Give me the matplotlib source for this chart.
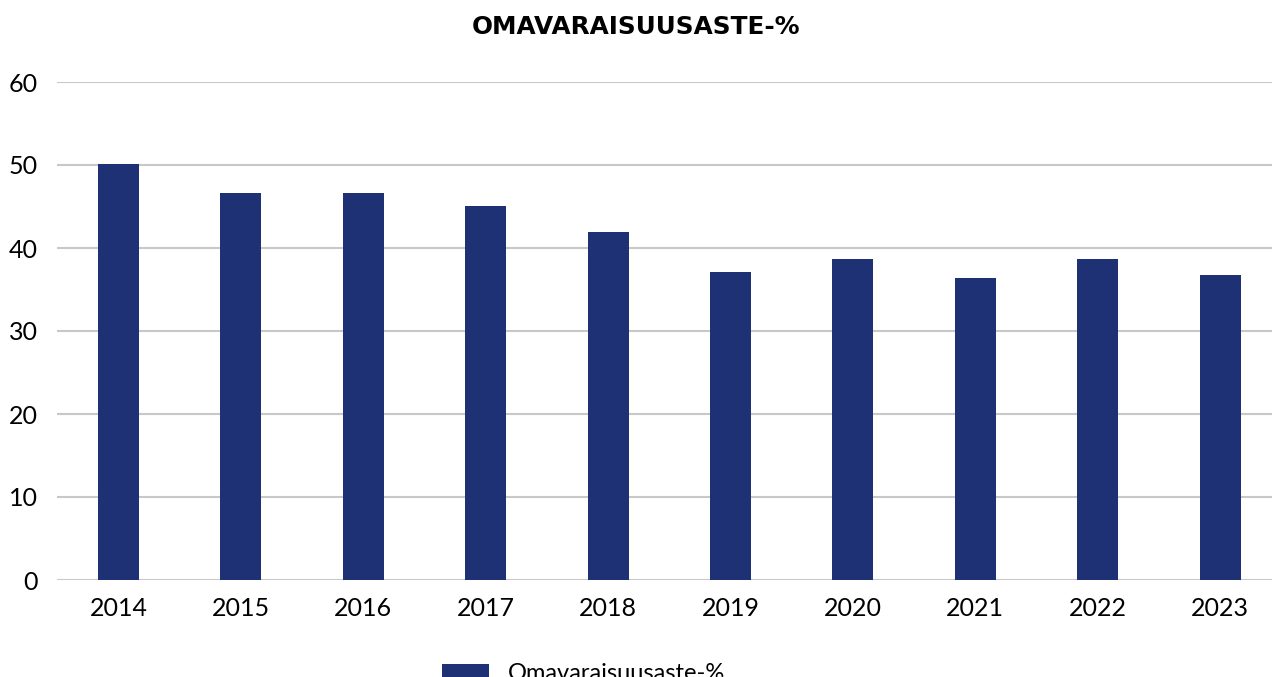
import matplotlib
matplotlib.use("Agg")
import matplotlib.pyplot as plt
import numpy as np

years = ["2014", "2015", "2016", "2017", "2018", "2019", "2020", "2021", "2022", "2023"]
values = [50.1, 46.6, 46.6, 45.0, 41.9, 37.1, 38.7, 36.4, 38.7, 36.7]
yticks = [0, 10, 20, 30, 40, 50, 60]
series_name = "Omavaraisuusaste-%"

plt.rcParams['font.family'] = ['Lato', 'DejaVu Sans']

fig = plt.figure(figsize=(12.72, 6.77), dpi=100)
ax = fig.add_axes([57.3 / 1272, 97 / 677, 1224 / 1272, 498 / 677])

x = np.arange(len(years))
ax.bar(x, values, width=0.335, color='#1e3175', zorder=3, label=series_name)

ax.set_xlim(-0.5, len(years) - 0.5)
ax.set_ylim(0, 60)
ax.set_yticks(yticks)
ax.set_xticks(x)
ax.set_xticklabels(years)
ax.grid(axis='y', color='#c8c8c8', linewidth=1.5, zorder=0)
for s in ax.spines.values():
    s.set_visible(False)
ax.tick_params(axis='both', length=0, labelsize=18, colors='black')
ax.tick_params(axis='x', pad=12)
ax.tick_params(axis='y', pad=14)

# title font in the original is wider than Lato
fig.text(0.5, 0.96, "OMAVARAISUUSASTE-%", ha='center', va='center',
         fontsize=17.8, fontweight='bold', family=['DejaVu Sans'])

fig.legend(loc='center', bbox_to_anchor=(0.459, 0.005), frameon=False,
           fontsize=17, handlelength=2.0, handleheight=0.7, handletextpad=0.8)

fig.savefig("out.png", dpi=100)
